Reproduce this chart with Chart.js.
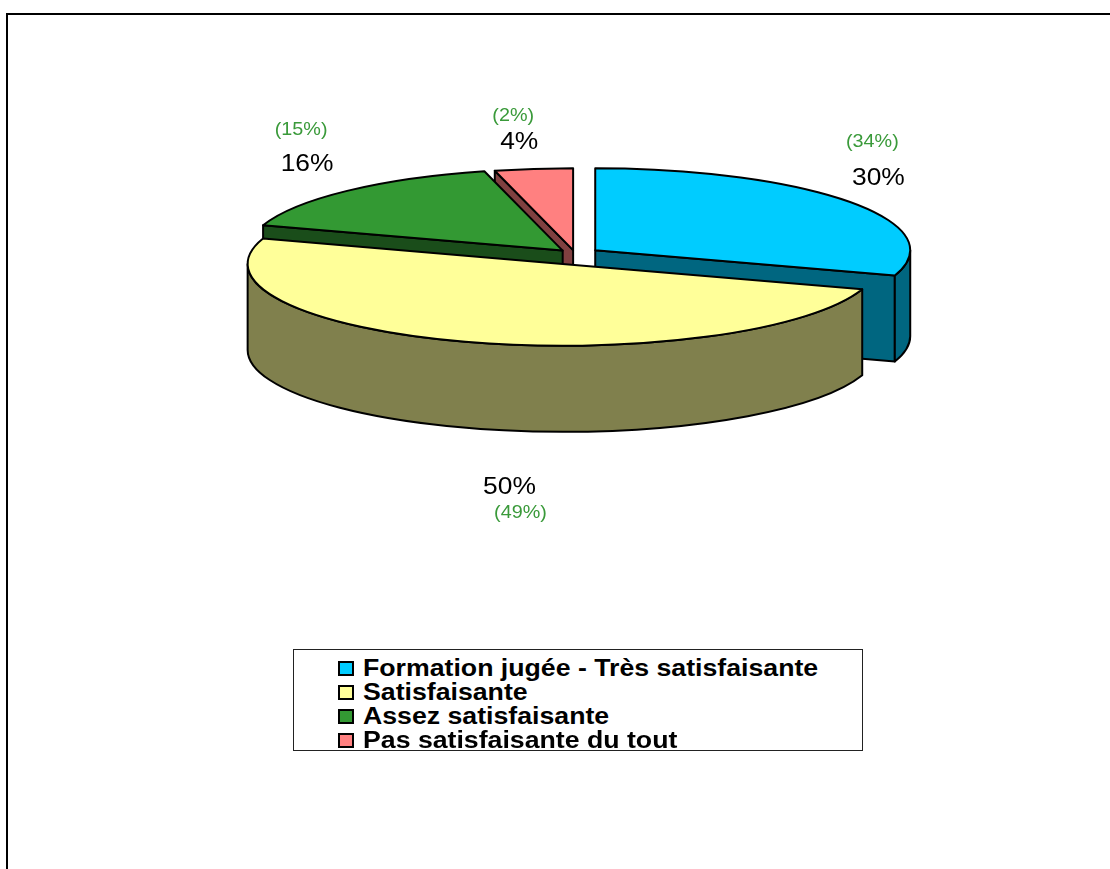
<!DOCTYPE html>
<html>
<head>
<meta charset="utf-8">
<script src="https://cdn.jsdelivr.net/npm/chart.js@4/dist/chart.umd.min.js"></script>
<style>
  html, body { margin: 0; padding: 0; background: #fff; overflow: hidden; }
  body { width: 1110px; height: 869px; position: relative; font-family: "Liberation Sans", Arial, sans-serif; }
  #frame { position: absolute; left: 6px; top: 13px; width: 1200px; height: 1000px;
           border-left: 2px solid #000; border-top: 2px solid #000; }
  #chart { position: absolute; left: 0; top: 0; }
  #legend { position: absolute; left: 293px; top: 649px; width: 570px; height: 102px;
            border: 1px solid #222; box-sizing: border-box; padding: 6px 0 0 44px; background: #fff; }
  .row { height: 24px; display: flex; align-items: center; }
  .box { width: 12px; height: 11px; border: 2px solid #000; margin-right: 9px; flex: none; }
  .txt { font-weight: bold; font-size: 23px; color: #000; white-space: nowrap;
         display: inline-block; transform: scaleX(1.16); transform-origin: left center; }
</style>
</head>
<body>
<div id="frame"></div>
<canvas id="chart" width="1110" height="869"></canvas>
<div id="legend"></div>
<script>
// data
const categories = ['Formation jugée - Très satisfaisante', 'Satisfaisante', 'Assez satisfaisante', 'Pas satisfaisante du tout'];
const shares = [30, 50, 16, 4];
const previousShares = [34, 49, 15, 2];

// styles
const topColors = ['#00CCFF', '#FFFF99', '#339933', '#FF8080'];
const sideColors = ['#006680', '#80804D', '#1A4D1A', '#804040'];
const explode = [25, 40, 18, 15];
const labelNudge = [[0, -2], [55, 24], [-16, 0], [-10, 10]];
const greenGap = [36, 26, 34, 26];
const RATIO = 0.26;   // vertical squash of the top face
const DEPTH = 86;     // height of the pie's side
const LABEL_GAP = 35;
const LABEL_GAP_Y = 37;

function drawSlice(ctx, arc, i, cy0) {
    const p = arc.getProps(['x', 'y', 'startAngle', 'endAngle', 'outerRadius'], true);
    const a0 = p.startAngle, a1 = p.endAngle;
    const m = (a0 + a1) / 2;
    const off = arc.options.offset || 0;
    const cx = p.x + off * Math.cos(m);
    const ecy = cy0 + (p.y + off * Math.sin(m) - cy0) * RATIO;
    const R = p.outerRadius;
    const ry = R * RATIO;
    const pt = (a, d) => [cx + R * Math.cos(a), ecy + ry * Math.sin(a) + d];

    ctx.lineWidth = 2;
    ctx.lineJoin = 'round';
    ctx.strokeStyle = '#000';
    ctx.fillStyle = sideColors[i];

    const wall = (a) => {
        const t = pt(a, 0), b = pt(a, DEPTH);
        ctx.beginPath();
        ctx.moveTo(cx, ecy);
        ctx.lineTo(t[0], t[1]);
        ctx.lineTo(b[0], b[1]);
        ctx.lineTo(cx, ecy + DEPTH);
        ctx.closePath();
        ctx.fill();
        ctx.stroke();
    };
    if (Math.cos(a0) < -1e-6) wall(a0);
    if (Math.cos(a1) > 1e-6) wall(a1);

    // curved outer wall, only the part facing the viewer
    for (let k = -1; k <= 1; k++) {
        const s = Math.max(a0, 2 * Math.PI * k);
        const e = Math.min(a1, Math.PI + 2 * Math.PI * k);
        if (e - s > 1e-4) {
            const be = pt(e, DEPTH);
            ctx.beginPath();
            ctx.ellipse(cx, ecy, R, ry, 0, s, e);
            ctx.lineTo(be[0], be[1]);
            ctx.ellipse(cx, ecy + DEPTH, R, ry, 0, e, s, true);
            ctx.closePath();
            ctx.fill();
            ctx.stroke();
        }
    }

    // top face
    ctx.fillStyle = topColors[i];
    ctx.beginPath();
    ctx.moveTo(cx, ecy);
    ctx.ellipse(cx, ecy, R, ry, 0, a0, a1);
    ctx.closePath();
    ctx.fill();
    ctx.stroke();

    return { cx, ecy, R, ry, m };
}

function stretchedText(ctx, text, x, y, font, color) {
    ctx.save();
    ctx.translate(x, y);
    ctx.scale(1.1, 1);
    ctx.font = font;
    ctx.fillStyle = color;
    ctx.textAlign = 'center';
    ctx.textBaseline = 'middle';
    ctx.fillText(text, 0, 0);
    ctx.restore();
}

const pie3d = {
    id: 'pie3d',
    beforeDatasetsDraw(chart) {
        const ctx = chart.ctx;
        const arcs = chart.getDatasetMeta(0).data;
        const cy0 = arcs[0].y;
        const mid = (a) => (a.startAngle + a.endAngle) / 2;
        const order = arcs.map((a, i) => i)
            .sort((i, j) => Math.sin(mid(arcs[i])) - Math.sin(mid(arcs[j])));
        const geo = [];
        ctx.save();
        order.forEach(i => { geo[i] = drawSlice(ctx, arcs[i], i, cy0); });

        geo.forEach((g, i) => {
            const front = Math.sin(g.m) > 0;
            const lx = g.cx + Math.cos(g.m) * (g.R + LABEL_GAP) + labelNudge[i][0];
            const ly = g.ecy + Math.sin(g.m) * (g.ry + LABEL_GAP_Y) + (front ? DEPTH : 0) + labelNudge[i][1];
            stretchedText(ctx, shares[i] + '%', lx, ly, '24px "Liberation Sans", Arial', '#000');
            const gx = front ? lx + 11 : lx - 6;
            const gy = front ? ly + greenGap[i] : ly - greenGap[i];
            stretchedText(ctx, '(' + previousShares[i] + '%)', gx, gy, '18px "Liberation Sans", Arial', '#3A9A3A');
        });
        ctx.restore();
        return false;
    }
};

new Chart(document.getElementById('chart'), {
    type: 'pie',
    data: {
        labels: categories,
        datasets: [{
            data: shares,
            backgroundColor: topColors,
            offset: explode,
            borderWidth: 0
        }]
    },
    options: {
        responsive: false,
        animation: false,
        events: [],
        radius: 315,
        layout: { padding: { left: 40, right: 0, top: 0, bottom: 361 } },
        plugins: { legend: { display: false }, tooltip: { enabled: false } }
    },
    plugins: [pie3d]
});

// legend
const legend = document.getElementById('legend');
categories.forEach((name, i) => {
    const row = document.createElement('div');
    row.className = 'row';
    row.innerHTML = '<span class="box" style="background:' + topColors[i] + '"></span><span class="txt">' + name + '</span>';
    legend.appendChild(row);
});
</script>
</body>
</html>
